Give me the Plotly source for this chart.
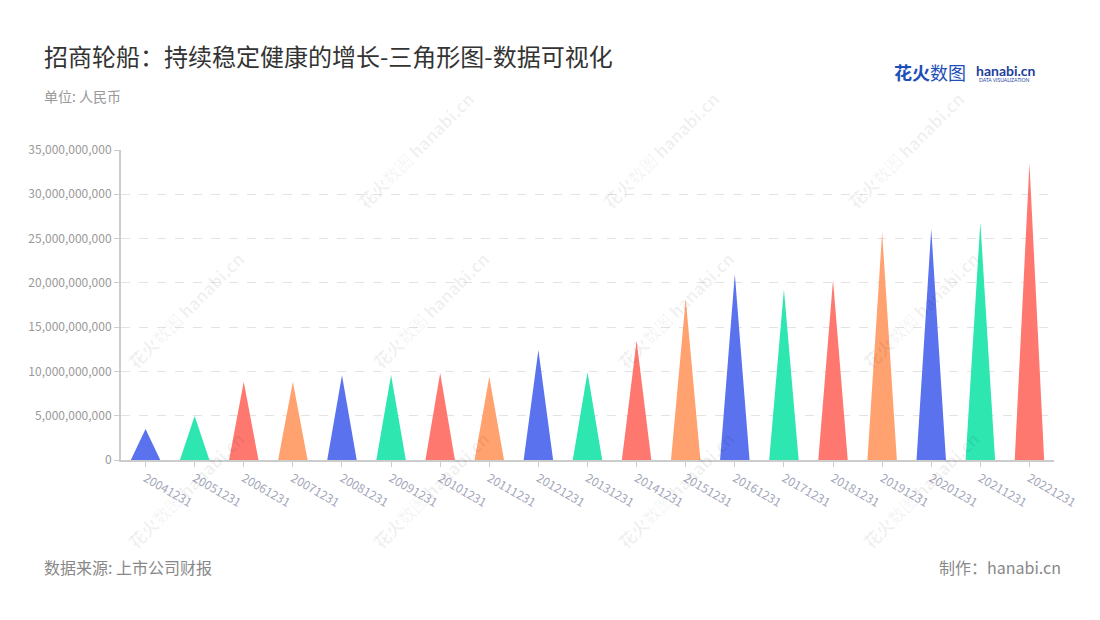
import plotly.graph_objects as go

# ---------------- data ----------------
dates = ["20041231", "20051231", "20061231", "20071231", "20081231", "20091231",
         "20101231", "20111231", "20121231", "20131231", "20141231", "20151231",
         "20161231", "20171231", "20181231", "20191231", "20201231", "20211231",
         "20221231"]
values = [3.5e9, 4.97e9, 8.84e9, 8.84e9, 9.56e9, 9.6e9,
          9.82e9, 9.41e9, 12.42e9, 9.9e9, 13.47e9, 18.18e9,
          20.96e9, 19.27e9, 20.32e9, 25.7e9, 26.08e9, 26.83e9,
          33.5e9]
palette = ["#5a72ee", "#2de6b0", "#ff7870", "#ffa26f"]

title = "招商轮船：持续稳定健康的增长-三角形图-数据可视化"
subtitle = "单位: 人民币"
source = "数据来源: 上市公司财报"
maker = "制作：hanabi.cn"

FONT = "Noto Sans CJK SC, Noto Sans, sans-serif"
HALF = 0.3  # half width of triangle base in category units

# page has an 8px body margin; figure is sized so it fits the window
OFF = 8
W, H = 1100 - OFF, 620 - OFF
PL, PR, PT, PB = 121, 1054, 150, 460  # plot area in window pixels


def px(X):
    return (X - PL) / (PR - PL)


def py(Y):
    return (PB - Y) / (PB - PT)


fig = go.Figure()

# one fill trace per colour, triangles separated by None gaps
for ci, col in enumerate(palette):
    xs, ys = [], []
    for i, v in enumerate(values):
        if i % len(palette) != ci:
            continue
        xs += [i - HALF, i, i + HALF, i - HALF, None]
        ys += [0, v, 0, 0, None]
    fig.add_trace(go.Scatter(
        x=xs, y=ys, mode="lines", fill="toself", fillcolor=col,
        line=dict(width=0, color=col), hoverinfo="skip", showlegend=False))

# ---------------- watermarks ----------------
wm_positions = [(415, 150), (660, 150), (905, 150),
                (185, 310), (430, 310), (675, 310), (920, 310),
                (185, 490), (430, 490), (675, 490), (920, 490)]
for (X, Y) in wm_positions:
    fig.add_annotation(
        x=px(X), y=py(Y), xref="paper", yref="paper",
        text="<b>花火</b>数图 <b>hanabi.cn</b>", showarrow=False, textangle=-45,
        font=dict(family=FONT, size=17, color="rgba(0,0,0,0.06)"),
        xanchor="center", yanchor="middle")

# ---------------- texts ----------------
fig.add_annotation(x=px(42), y=py(55), xref="paper", yref="paper",
                   text=title, showarrow=False, xanchor="left", yanchor="middle",
                   font=dict(family=FONT, size=24, color="#333333"))
fig.add_annotation(x=px(42), y=py(96), xref="paper", yref="paper",
                   text=subtitle, showarrow=False, xanchor="left", yanchor="middle",
                   font=dict(family=FONT, size=14, color="#999999"))
fig.add_annotation(x=px(42), y=py(567), xref="paper", yref="paper",
                   text=source, showarrow=False, xanchor="left", yanchor="middle",
                   font=dict(family=FONT, size=16, color="#888888"))
fig.add_annotation(x=px(1063), y=py(567), xref="paper", yref="paper",
                   text=maker, showarrow=False, xanchor="right", yanchor="middle",
                   font=dict(family=FONT, size=16, color="#888888"))

# logo
fig.add_annotation(x=px(892), y=py(72), xref="paper", yref="paper",
                   text="<b>花火</b>数图", showarrow=False, xanchor="left", yanchor="middle",
                   font=dict(family=FONT, size=18, color="#1d4fb8"))
fig.add_annotation(x=px(974), y=py(70), xref="paper", yref="paper",
                   text="<b>hanabi.cn</b>", showarrow=False, xanchor="left", yanchor="middle",
                   font=dict(family="Lato, sans-serif", size=14, color="#1d3f9a"))
fig.add_annotation(x=px(977), y=py(80), xref="paper", yref="paper",
                   text="DATA VISUALIZATION", showarrow=False, xanchor="left", yanchor="middle",
                   font=dict(family="Lato, sans-serif", size=5, color="#1d3f9a"))

fig.update_layout(
    width=W, height=H,
    margin=dict(l=PL - OFF, r=W - (PR - OFF), t=PT - OFF, b=H - (PB - OFF),
                autoexpand=False),
    paper_bgcolor="white", plot_bgcolor="white",
    font=dict(family=FONT),
    showlegend=False,
    xaxis=dict(
        range=[-0.5, len(dates) - 0.5],
        tickmode="array", tickvals=list(range(len(dates))), ticktext=dates,
        tickangle=30, showgrid=False, zeroline=False,
        showline=True, linecolor="#cccccc", linewidth=2,
        ticks="outside", ticklen=5, tickcolor="#cccccc", tickwidth=1,
        tickfont=dict(family=FONT, size=12, color="#a3a7ba"),
        fixedrange=True),
    yaxis=dict(
        range=[0, 35e9], tickmode="linear", tick0=0, dtick=5e9,
        tickformat=",d", showgrid=True, gridcolor="#e3e3e3", griddash="dash",
        gridwidth=1, zeroline=False,
        showline=True, linecolor="#cccccc", linewidth=2,
        ticks="outside", ticklen=5, tickcolor="#cccccc",
        tickfont=dict(family=FONT, size=12, color="#999999"),
        fixedrange=True),
)

fig.write_html("out.html")
